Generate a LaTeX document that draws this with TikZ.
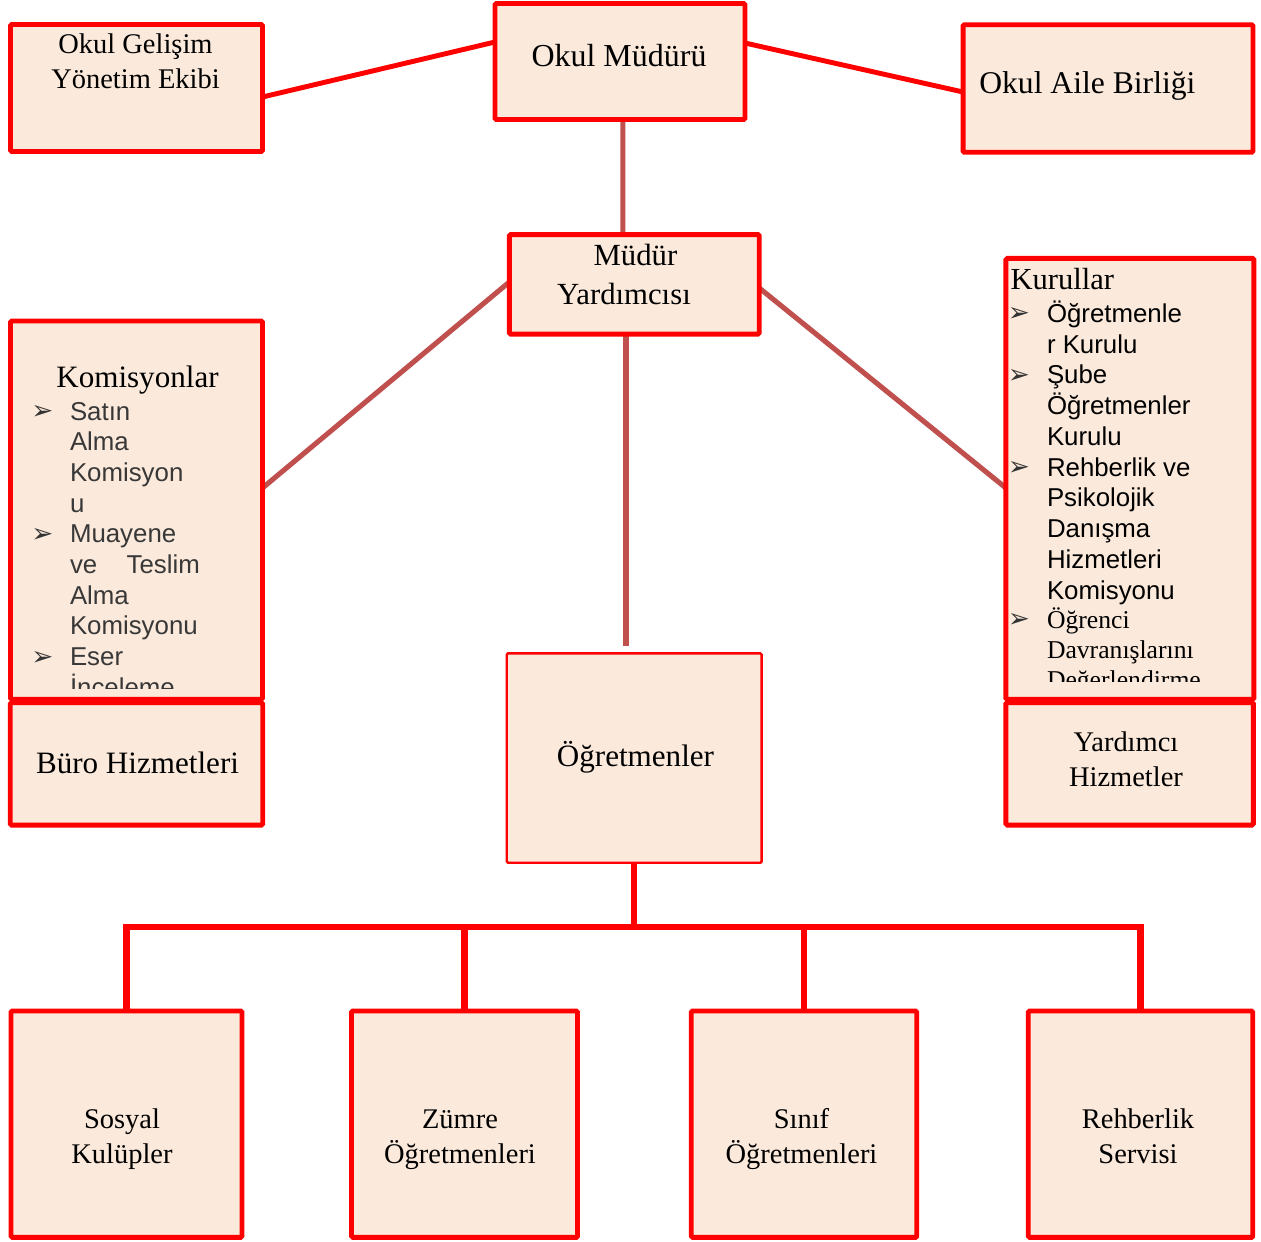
\documentclass[tikz,border=0pt]{standalone}
\usepackage{fontspec}
\setmainfont{Liberation Serif}
\newfontfamily\arialfont{Liberation Sans}
\newfontfamily\symfont{DejaVu Sans}
\usetikzlibrary{backgrounds}
\definecolor{boxfill}{RGB}{251,233,219}
\definecolor{linkred}{RGB}{192,80,77}

\begin{document}
\begin{tikzpicture}[x=0.02cm, y=-0.02cm,
		box/.style={draw=red, fill=boxfill, line width=2.8pt, inner sep=0, outer sep=0, rounded corners=0.8pt},
		thinbox/.style={box, line width=1.4pt},
		boxtext/.style={inner sep=0, outer sep=0, anchor=base, align=center, font=\fontsize{17.7}{22}\selectfont},
		twoline/.style={boxtext, font=\fontsize{16.2}{19.8}\selectfont},
		listitem/.style={inner sep=0, outer sep=0, anchor=base west, font=\arialfont\fontsize{14.7}{17.4}\selectfont},
		seritem/.style={listitem, font=\fontsize{14.6}{17}\selectfont},
		bulletmark/.style={inner sep=0, text=black!80, font=\symfont\fontsize{15}{15}\selectfont},
		link/.style={draw=linkred, line width=2.9pt},
		redlink/.style={draw=red, line width=2.8pt},
		busline/.style={draw=red, line width=3.6pt}]
		%%%%% START %%%%%
		
		\useasboundingbox (0,0) rectangle (1261,1241);
		
		% top row (two-line texts sit on the baseline of their last line)
		\node[box, minimum width=5.04cm, minimum height=2.54cm] (gel) at (136.5,88) {};
		\node[twoline] (gel-t) at (135.5,88) {Okul Gelişim\\Yönetim Ekibi};
		\node[box, minimum width=5cm, minimum height=2.32cm] (mud) at (620,61.5) {};
		\node[boxtext, font=\fontsize{18.2}{22}\selectfont] (mud-t) at (619,66) {Okul Müdürü};
		\node[box, minimum width=5.8cm, minimum height=2.55cm] (aile) at (1108,88.5) {};
		\node[boxtext, anchor=base west, font=\fontsize{18}{22}\selectfont] (aile-t) at (979.3,93.3) {Okul Aile Birliği};
		
		% middle
		\node[box, minimum width=5cm, minimum height=1.99cm] (my) at (634.3,284.3) {};
		\node[boxtext, font=\fontsize{17.5}{22.1}\selectfont] (my-t) at (624,304) {\hspace*{13pt}Müdür\\Yardımcısı};
		
		\node[box, minimum width=5.04cm, minimum height=7.57cm] (kom) at (136.5,510.2) {};
		\node[boxtext] (kom-t) at (137.5,387) {Komisyonlar};
		\node[box, minimum width=5.05cm, minimum height=2.45cm] (buro) at (136.5,763.8) {};
		\node[boxtext] (buro-t) at (137.5,773.3) {Büro Hizmetleri};
		
		\node[box, minimum width=4.96cm, minimum height=8.82cm] (kur) at (1129.9,478.9) {};
		\node[boxtext, anchor=base west, font=\fontsize{17.4}{22}\selectfont] (kur-t) at (1010.5,289) {Kurullar};
		\node[box, minimum width=4.95cm, minimum height=2.45cm] (yard) at (1129.6,763.8) {};
		\node[twoline] (yard-t) at (1126,786.7) {Yardımcı\\Hizmetler};
		
		\node[thinbox, minimum width=5.1cm, minimum height=4.19cm] (ogr) at (634.2,758) {};
		\node[boxtext] (ogr-t) at (635.5,766) {Öğretmenler};
		
		% komisyon list
		\begin{scope}
			\clip (13,325) rectangle (260,688.5);
			\foreach \w [count=\i] in {Satın, Alma, Komisyon, u, Muayene, {ve\hspace{16.7pt}Teslim}, Alma, Komisyonu, Eser, İnceleme}
				\node[listitem, text=black!78] (kom-\i) at (70,{389.3+30.7*\i}) {\w};
			\foreach \i in {1,5,9}
				\node[bulletmark] (kom-b\i) at (42.5,{381.8+30.7*\i}) {➢};
		\end{scope}
		
		% kurul list
		\begin{scope}
			\clip (1008,262) rectangle (1251,681);
			\foreach \w [count=\i] in {Öğretmenle, r Kurulu, Şube, Öğretmenler, Kurulu, Rehberlik ve, Psikolojik, Danışma, Hizmetleri, Komisyonu}
				\node[listitem] (kur-\i) at (1047,{291.55+30.75*\i}) {\w};
			\foreach \w [count=\i] in {Öğrenci, Davranışlarını, Değerlendirme}
				\node[seritem] (kur-s\i) at (1047,{598+30*\i}) {\w};
			\foreach \i in {1,3,6}
				\node[bulletmark] (kur-b\i) at (1019,{284+30.75*\i}) {➢};
			\node[bulletmark] (kur-b11) at (1019,620.5) {➢};
		\end{scope}
		
		% bottom row
		\node[box, minimum width=4.62cm, minimum height=4.53cm] (sos) at (126.5,1124.2) {};
		\node[twoline] (sos-t) at (122,1163.3) {Sosyal\\Kulüpler};
		\node[box, minimum width=4.52cm, minimum height=4.53cm] (zum) at (464.5,1124.2) {};
		\node[twoline] (zum-t) at (460,1163.3) {Zümre\\Öğretmenleri};
		\node[box, minimum width=4.51cm, minimum height=4.53cm] (sin) at (804,1124.2) {};
		\node[twoline] (sin-t) at (801.5,1163.3) {Sınıf\\Öğretmenleri};
		\node[box, minimum width=4.49cm, minimum height=4.53cm] (reh) at (1140.5,1124.2) {};
		\node[twoline] (reh-t) at (1138,1163.3) {Rehberlik\\Servisi};
		
		\coordinate (bus) at (634.2,927);
		
		% connectors
		\begin{pgfonlayer}{background}
			\draw[redlink] ([shift={(0,9)}]gel.east) -- ([shift={(0,-19.5)}]mud.west);
			\draw[redlink] ([shift={(0,-18.5)}]mud.east) -- ([shift={(0,3.5)}]aile.west);
			\draw[link] ([shift={(2.8,0)}]mud.south) -- ([shift={(-11.5,0)}]my.north);
			\draw[link] ([shift={(0,-2.3)}]my.west) -- ([shift={(0,-22.2)}]kom.east);
			\draw[link] ([shift={(0,3.7)}]my.east) -- ([shift={(0,9.1)}]kur.west);
			\draw[link] ([shift={(-8.3,0)}]my.south) -- ([shift={(-8.2,-7.3)}]ogr.north);
			\draw[busline] (ogr.south) -- (bus);
			\foreach \b in {sos, zum, sin, reh}
				\draw[busline] (\b.north) |- (bus);
		\end{pgfonlayer}
		
		%%%%% END %%%%%
\end{tikzpicture}
\end{document}
